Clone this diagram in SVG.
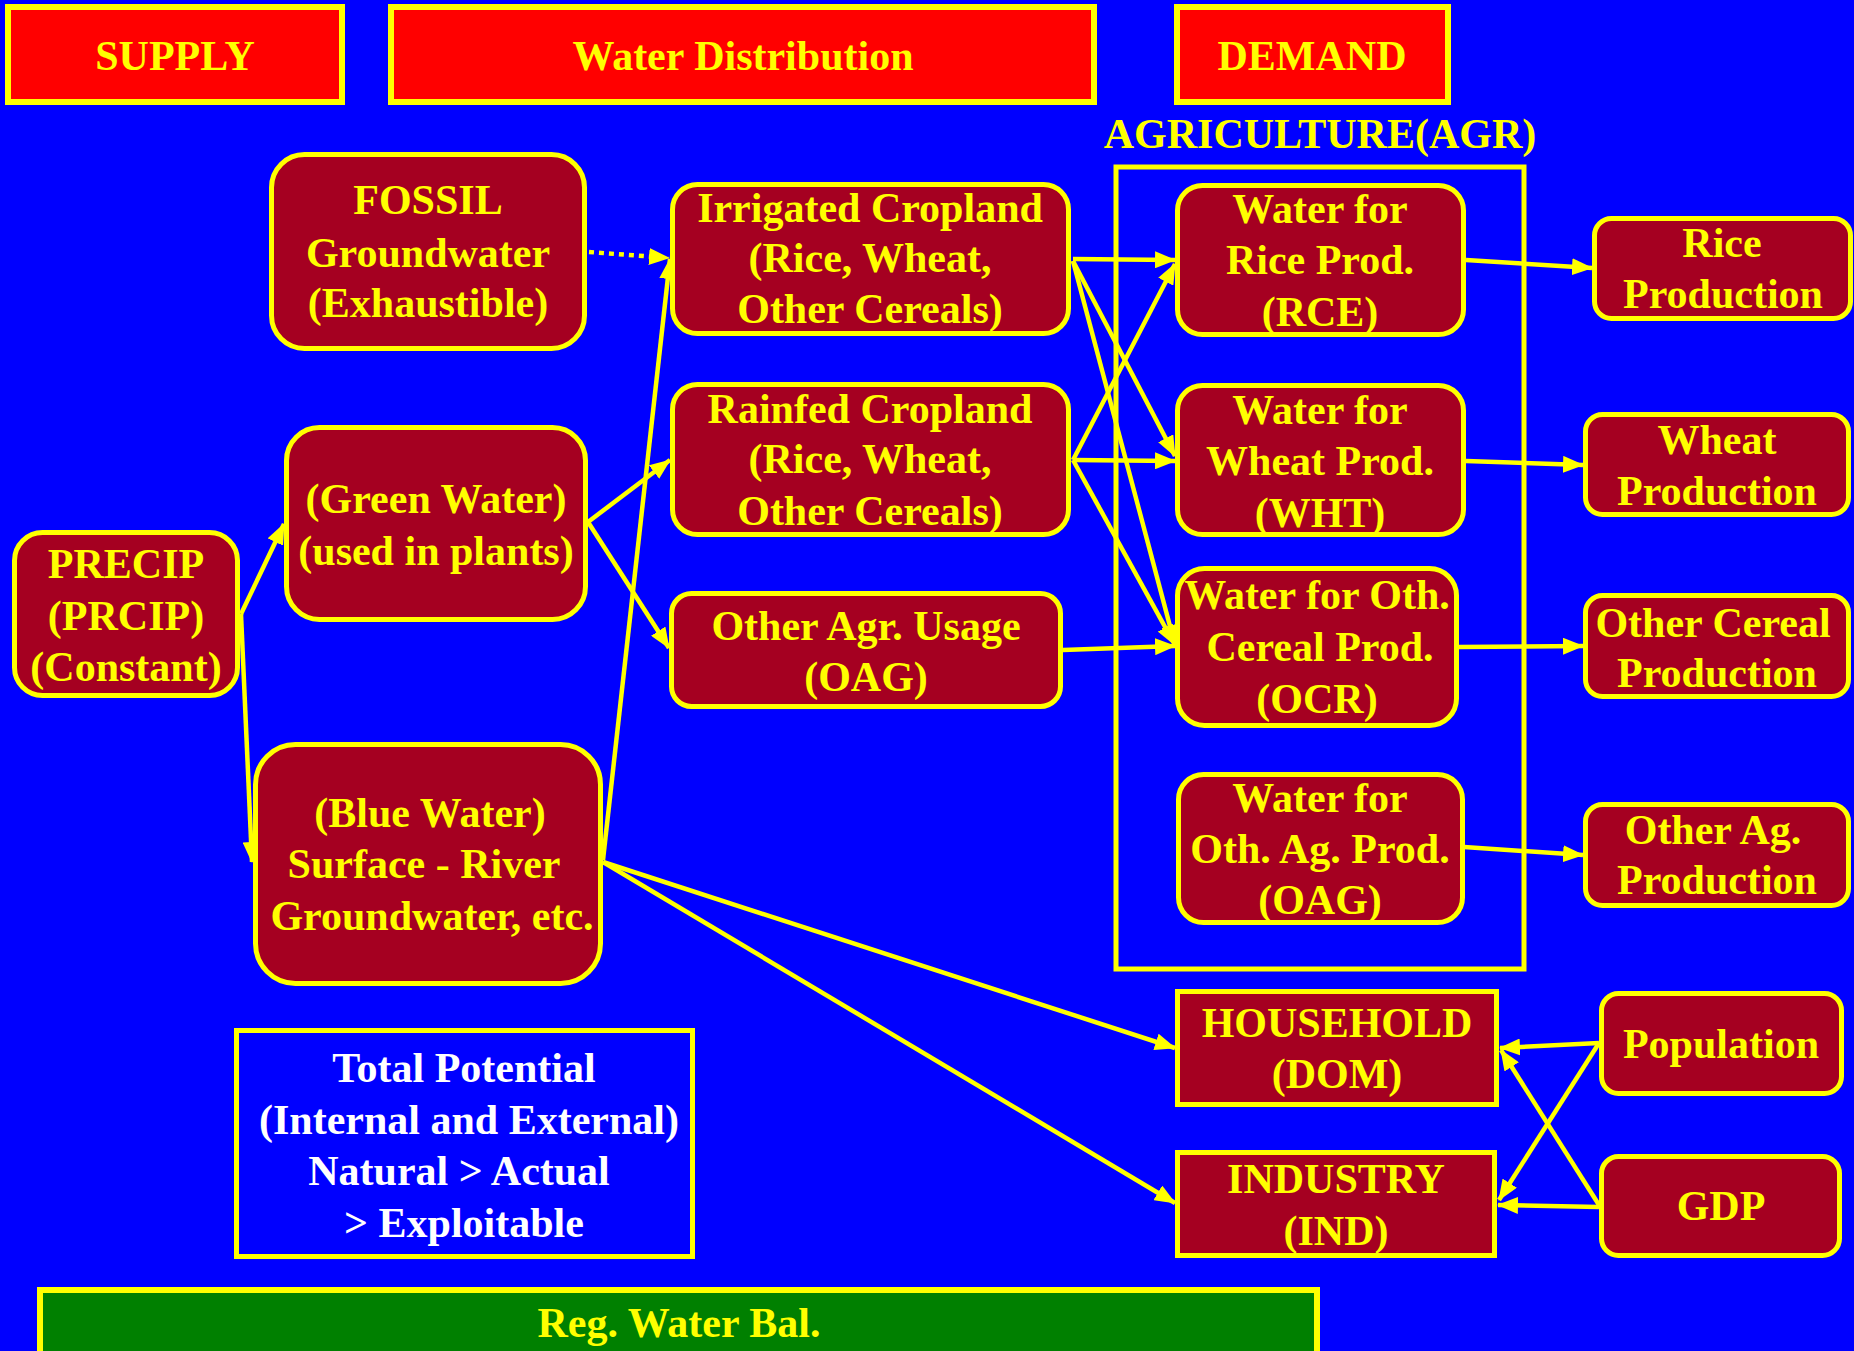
<svg xmlns="http://www.w3.org/2000/svg" width="1854" height="1351" viewBox="0 0 1854 1351">
  <style>
    text { font-family: "Liberation Serif", "Times New Roman", serif; font-weight: bold; font-size: 42px; fill: #FFFF00; text-anchor: middle; }
    .hdr rect { fill: #FF0000; stroke: #FFFF00; stroke-width: 6; }
    .node rect { fill: #A50021; stroke: #FFFF00; stroke-width: 5; }
    .note rect { fill: #0000FF; stroke: #FFFF00; stroke-width: 5; }
    .note text { fill: #FFFFFF; }
    .bar rect { fill: #008000; stroke: #FFFF00; stroke-width: 6; }
    .frame { fill: none; stroke: #FFFF00; stroke-width: 5; }
    .edge { fill: none; stroke: #FFFF00; stroke-width: 4.5; marker-end: url(#arr); }
    .dotted { stroke-dasharray: 5 5; }
  </style>
  <defs>
    <marker id="arr" markerUnits="userSpaceOnUse" markerWidth="21" markerHeight="17" viewBox="0 0 21 17" refX="20" refY="8.5" orient="auto">
      <path d="M0,0 L21,8.5 L0,17 z" fill="#FFFF00"/>
    </marker>
  </defs>

  <!-- background -->
  <rect x="0" y="0" width="1854" height="1351" fill="#0000FF"/>

  <!-- column headers -->
  <g id="hdr-supply" class="hdr"><rect x="8" y="7" width="334" height="95"/><text x="175" y="70">SUPPLY</text></g>
  <g id="hdr-distribution" class="hdr"><rect x="391" y="7" width="703" height="95"/><text x="743" y="70">Water Distribution</text></g>
  <g id="hdr-demand" class="hdr"><rect x="1177" y="7" width="271" height="95"/><text x="1312" y="70">DEMAND</text></g>

  <!-- agriculture group frame -->
  <g id="agr-group">
    <text x="1320" y="148">AGRICULTURE(AGR)</text>
    <rect class="frame" x="1116" y="167" width="408" height="802"/>
  </g>

  <!-- connectors -->
  <g id="connectors">
    <line class="edge" x1="241" y1="614" x2="284" y2="524"/>
    <line class="edge" x1="241" y1="614" x2="252" y2="862"/>
    <line class="edge" x1="588" y1="522" x2="670" y2="460"/>
    <line class="edge" x1="588" y1="522" x2="669" y2="648"/>
    <line class="edge" x1="603" y1="860" x2="670" y2="259"/>
    <line class="edge dotted" x1="589" y1="252" x2="669" y2="258"/>
    <line class="edge" x1="1073" y1="259" x2="1175" y2="260"/>
    <line class="edge" x1="1073" y1="261" x2="1175" y2="456"/>
    <line class="edge" x1="1073" y1="261" x2="1175" y2="645"/>
    <line class="edge" x1="1073" y1="460" x2="1175" y2="264"/>
    <line class="edge" x1="1073" y1="460" x2="1175" y2="461"/>
    <line class="edge" x1="1073" y1="460" x2="1175" y2="645"/>
    <line class="edge" x1="1063" y1="650" x2="1175" y2="646"/>
    <line class="edge" x1="1466" y1="260" x2="1592" y2="268"/>
    <line class="edge" x1="1466" y1="461" x2="1583" y2="465"/>
    <line class="edge" x1="1459" y1="647" x2="1583" y2="646"/>
    <line class="edge" x1="1464" y1="847" x2="1583" y2="855"/>
    <line class="edge" x1="603" y1="862" x2="1175" y2="1048"/>
    <line class="edge" x1="603" y1="862" x2="1175" y2="1203"/>
    <line class="edge" x1="1599" y1="1043" x2="1500" y2="1048"/>
    <line class="edge" x1="1599" y1="1205" x2="1501" y2="1050"/>
    <line class="edge" x1="1599" y1="1043" x2="1499" y2="1200"/>
    <line class="edge" x1="1599" y1="1207" x2="1498" y2="1205"/>
  </g>

  <!-- supply side -->
  <g id="fossil" class="node"><rect x="271.5" y="154.5" width="313" height="194" rx="33"/>
    <text x="428" y="214">FOSSIL</text><text x="428" y="267">Groundwater</text><text x="428" y="317">(Exhaustible)</text></g>
  <g id="precip" class="node"><rect x="14.5" y="532.5" width="223" height="163" rx="28"/>
    <text x="126" y="578">PRECIP</text><text x="126" y="630">(PRCIP)</text><text x="126" y="681">(Constant)</text></g>
  <g id="green-water" class="node"><rect x="286.5" y="427.5" width="299" height="192" rx="33"/>
    <text x="436" y="513">(Green Water)</text><text x="436" y="565">(used in plants)</text></g>
  <g id="blue-water" class="node"><rect x="255.5" y="744.5" width="345" height="239" rx="40"/>
    <text x="430" y="827">(Blue Water)</text><text x="424" y="878">Surface - River</text><text x="432" y="930">Groundwater, etc.</text></g>

  <!-- distribution -->
  <g id="irrigated" class="node"><rect x="672.5" y="184.5" width="396" height="149" rx="25"/>
    <text x="870" y="222">Irrigated Cropland</text><text x="870" y="272">(Rice, Wheat,</text><text x="870" y="323">Other Cereals)</text></g>
  <g id="rainfed" class="node"><rect x="672.5" y="384.5" width="396" height="150" rx="25"/>
    <text x="870" y="423">Rainfed Cropland</text><text x="870" y="473">(Rice, Wheat,</text><text x="870" y="525">Other Cereals)</text></g>
  <g id="other-agr-usage" class="node"><rect x="671.5" y="593.5" width="389" height="113" rx="20"/>
    <text x="866" y="640">Other Agr. Usage</text><text x="866" y="691">(OAG)</text></g>

  <!-- agriculture demand -->
  <g id="water-rice" class="node"><rect x="1177.5" y="185.5" width="286" height="149" rx="25"/>
    <text x="1320" y="223">Water for</text><text x="1320" y="274">Rice Prod.</text><text x="1320" y="326">(RCE)</text></g>
  <g id="water-wheat" class="node"><rect x="1177.5" y="385.5" width="286" height="149" rx="25"/>
    <text x="1320" y="424">Water for</text><text x="1320" y="475">Wheat Prod.</text><text x="1320" y="527">(WHT)</text></g>
  <g id="water-ocr" class="node"><rect x="1177.5" y="568.5" width="279" height="157" rx="27"/>
    <text x="1317" y="609">Water for Oth.</text><text x="1320" y="661">Cereal Prod.</text><text x="1317" y="713">(OCR)</text></g>
  <g id="water-oag" class="node"><rect x="1178.5" y="774.5" width="284" height="148" rx="25"/>
    <text x="1320" y="812">Water for</text><text x="1320" y="863">Oth. Ag. Prod.</text><text x="1320" y="914">(OAG)</text></g>

  <!-- production outputs -->
  <g id="rice-prod" class="node"><rect x="1594.5" y="218.5" width="256" height="100" rx="17"/>
    <text x="1722" y="257">Rice</text><text x="1723" y="308">Production</text></g>
  <g id="wheat-prod" class="node"><rect x="1585.5" y="414.5" width="263" height="100" rx="17"/>
    <text x="1717" y="454">Wheat</text><text x="1717" y="505">Production</text></g>
  <g id="ocr-prod" class="node"><rect x="1585.5" y="595.5" width="263" height="101" rx="17"/>
    <text x="1713" y="637">Other Cereal</text><text x="1717" y="687">Production</text></g>
  <g id="oag-prod" class="node"><rect x="1585.5" y="804.5" width="263" height="101" rx="17"/>
    <text x="1713" y="844">Other Ag.</text><text x="1717" y="894">Production</text></g>

  <!-- non-agricultural demand and drivers -->
  <g id="household" class="node"><rect x="1177.5" y="991.5" width="319" height="113"/>
    <text x="1337" y="1037">HOUSEHOLD</text><text x="1337" y="1088">(DOM)</text></g>
  <g id="industry" class="node"><rect x="1177.5" y="1152.5" width="317" height="103"/>
    <text x="1336" y="1193">INDUSTRY</text><text x="1336" y="1245">(IND)</text></g>
  <g id="population" class="node"><rect x="1601.5" y="993.5" width="240" height="100" rx="17"/>
    <text x="1721" y="1058">Population</text></g>
  <g id="gdp" class="node"><rect x="1601.5" y="1156.5" width="238" height="99" rx="17"/>
    <text x="1721" y="1220">GDP</text></g>

  <!-- notes -->
  <g id="total-potential" class="note"><rect x="236.5" y="1030.5" width="456" height="226"/>
    <text x="464" y="1082">Total Potential</text><text x="469" y="1134">(Internal and External)</text><text x="459" y="1185">Natural &gt; Actual</text><text x="464" y="1237">&gt; Exploitable</text></g>
  <g id="water-balance" class="bar"><rect x="40" y="1290" width="1277" height="80"/>
    <text x="679" y="1337">Reg. Water Bal.</text></g>
</svg>
